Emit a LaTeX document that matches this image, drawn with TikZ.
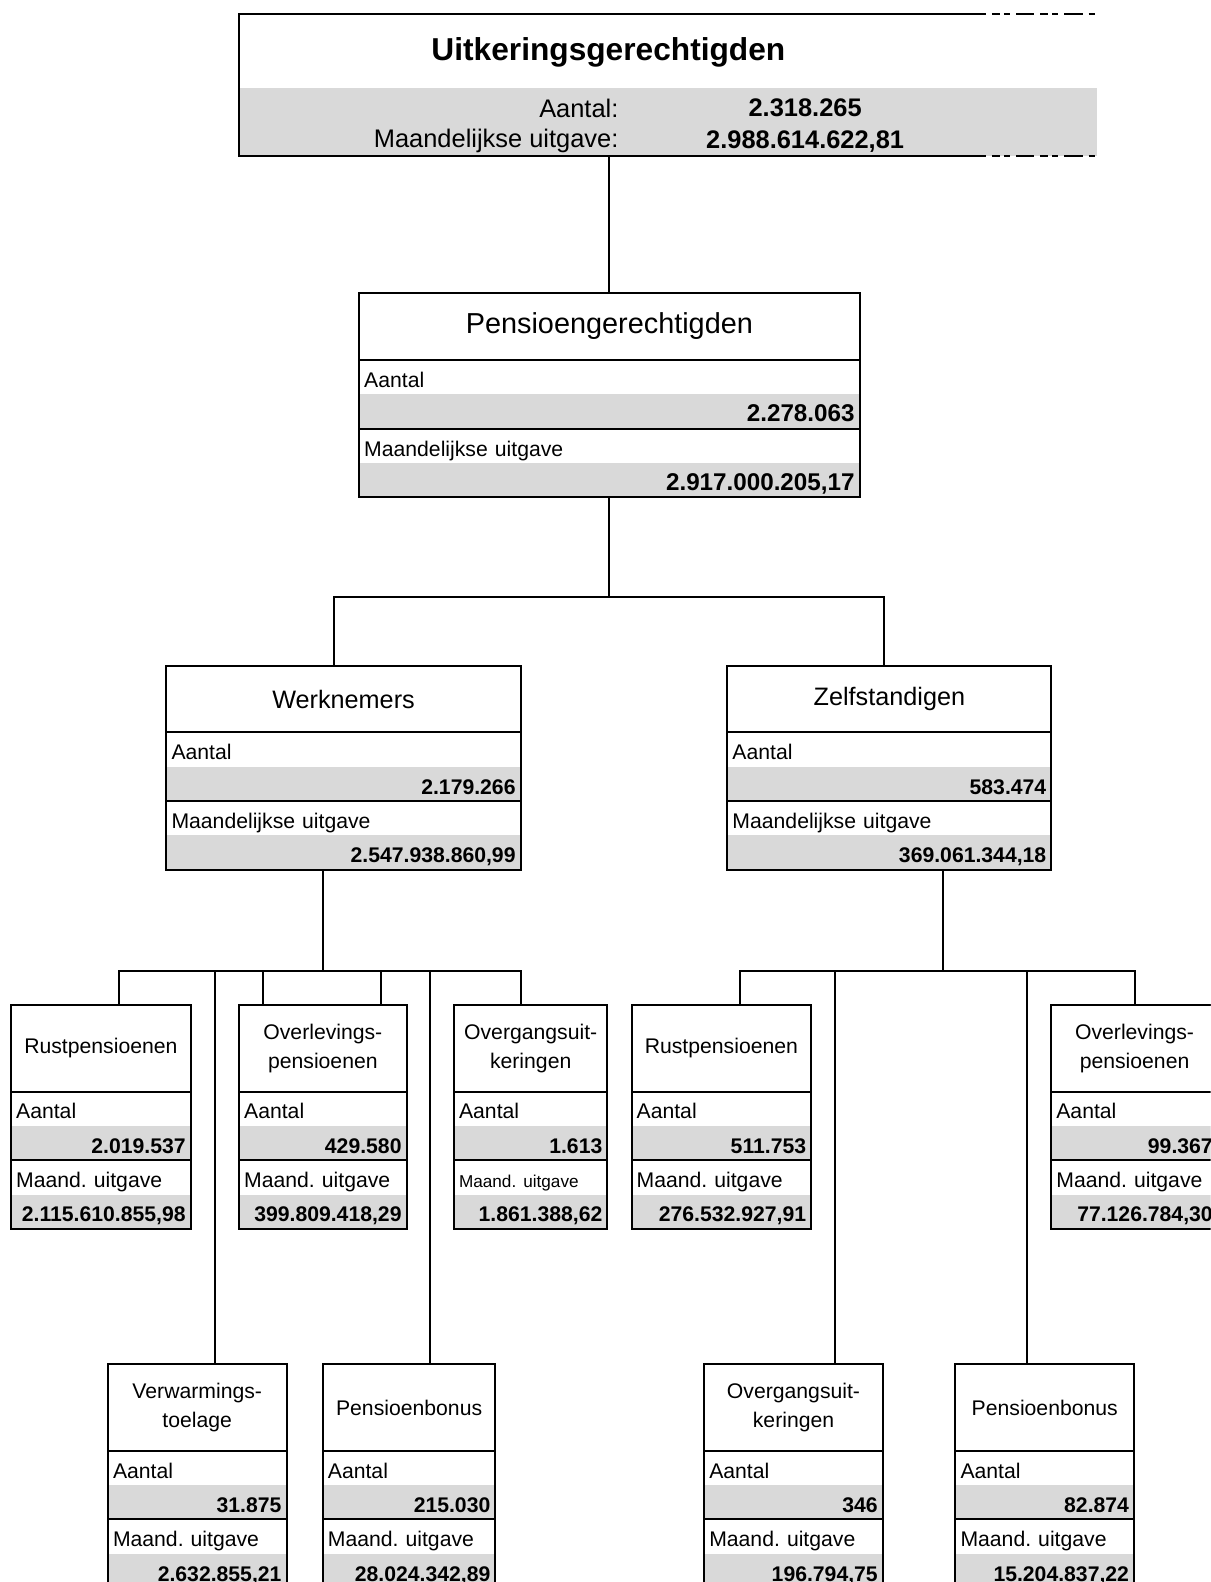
\documentclass[tikz,border=0pt]{standalone}
\usepackage{fontspec}
\setmainfont{Liberation Sans}
\frenchspacing
\definecolor{cellgray}{RGB}{217,217,217}

\tikzset{
  cell/.style={anchor=north west, inner xsep=2.5pt, inner ysep=0pt, outer sep=0pt},
  title row/.style={minimum height=43pt, font=\fontsize{10.5}{14.5}\selectfont},
  value row/.style={font=\fontsize{10.5}{12.6}\selectfont\bfseries},
  titlecell/.style={cell, draw, line width=1pt, align=center, title row},
  labelcell/.style={cell, align=left, minimum height=17pt, text height=10.5pt, text depth=0.5pt, font=\fontsize{10.5}{12.6}\selectfont},
  valuecell/.style={cell, align=right, minimum height=17pt, text height=10.5pt, text depth=0.5pt, fill=cellgray, value row},
  boxline/.style={line width=1pt},
  link/.style={line width=1pt},
}

% [style] name, x, y, width, title, aantal, label, uitgave
\newcommand{\statbox}[9][]{%
  \pgfmathsetmacro{\cellw}{#5*0.5-5}
  \begin{scope}[#1]
    \node[titlecell, text width=\cellw pt] (#2) at (#3,#4) {#6};
    \node[labelcell, text width=\cellw pt] (#2-al) at (#2.south west) {Aantal};
    \node[valuecell, text width=\cellw pt] (#2-av) at (#2-al.south west) {#7};
    \node[labelcell, text width=\cellw pt] (#2-ml) at (#2-av.south west) {#8};
    \node[valuecell, text width=\cellw pt] (#2-mv) at (#2-ml.south west) {#9};
    \draw[boxline] (#2.north west) rectangle (#2-mv.south east)
      (#2-ml.north west) -- (#2-ml.north east);
  \end{scope}
}

\begin{document}
\begin{tikzpicture}[x=0.5pt, y=-0.5pt]
  \path[use as bounding box] (0,0) rectangle (1200,1568);
  \clip (0,0) rectangle (1200,1568);

  % top box
  \node[cell, inner sep=0pt, minimum width=425pt, minimum height=70.5pt] (uitk) at (237,14) {};
  \fill[cellgray] (237,87) rectangle (1087,155);
  \node[font=\fontsize{15.7}{18}\selectfont\bfseries] (uitk-title) at (603,52) {Uitkeringsgerechtigden};
  \node[anchor=east, font=\fontsize{12.6}{15}\selectfont] (uitk-al) at (620,107) {Aantal:};
  \node[font=\fontsize{12.6}{15}\selectfont\bfseries] (uitk-av) at (798,107) {2.318.265};
  \node[anchor=east, font=\fontsize{12.6}{15}\selectfont] (uitk-ml) at (620,140) {Maandelijkse uitgave:};
  \node[font=\fontsize{12.6}{15}\selectfont\bfseries] (uitk-mv) at (798,140) {2.988.614.622,81};
  \draw[boxline] (977,14) -- (237,14) -- (237,155) -- (977,155);
  \draw[boxline, dash pattern=on 9pt off 3pt on 4pt off 2pt on 3pt off 3pt, dash phase=9pt]
    (977,14) -- (1085,14) (977,155) -- (1085,155);

  \statbox[title row/.style={minimum height=33.5pt, font=\fontsize{14.3}{17}\selectfont},
           value row/.style={font=\fontsize{12}{14}\selectfont\bfseries}]
    {pens}{356}{290}{496}{Pensioengerechtigden}{2.278.063}{Maandelijkse uitgave}{2.917.000.205,17}

  \statbox[title row/.style={minimum height=33pt, font=\fontsize{12.5}{15}\selectfont}]
    {werk}{165}{660}{351}{Werknemers}{2.179.266}{Maandelijkse uitgave}{2.547.938.860,99}
  \statbox[title row/.style={minimum height=33pt, font=\fontsize{12.5}{15}\selectfont}]
    {zelf}{721}{660}{321}{Zelfstandigen}{583.474}{Maandelijkse uitgave}{369.061.344,18}

  \statbox{rustW}{11}{996}{178}{Rustpensioenen}{2.019.537}{Maand. uitgave}{2.115.610.855,98}
  \statbox{overlW}{237}{996}{166}{Overlevings-\\pensioenen}{429.580}{Maand. uitgave}{399.809.418,29}
  \statbox{overgW}{450}{996}{152}{Overgangsuit-\\keringen}{1.613}{\fontsize{8.5}{10}\selectfont Maand. uitgave}{1.861.388,62}
  \statbox{rustZ}{626}{996}{178}{Rustpensioenen}{511.753}{Maand. uitgave}{276.532.927,91}
  \statbox{overlZ}{1042}{996}{165}{Overlevings-\\pensioenen}{99.367}{Maand. uitgave}{77.126.784,30}

  \statbox{verw}{107}{1352}{177}{Verwarmings-\\toelage}{31.875}{Maand. uitgave}{2.632.855,21}
  \statbox{bonusW}{320}{1352}{171}{Pensioenbonus}{215.030}{Maand. uitgave}{28.024.342,89}
  \statbox{overgZ}{698}{1352}{177}{Overgangsuit-\\keringen}{346}{Maand. uitgave}{196.794,75}
  \statbox{bonusZ}{947}{1352}{177}{Pensioenbonus}{82.874}{Maand. uitgave}{15.204.837,22}

  % connectors
  \draw[link] (pens.north |- uitk.south) -- (pens.north);

  \coordinate (pw) at (331,592);
  \coordinate (pz) at (876,592);
  \draw[link] (pens-mv.south) -- (pens-mv.south |- pw);
  \draw[link] (pw |- werk.north) -- (pw) -- (pz) -- (pz |- zelf.north);

  \coordinate (wj) at (320,962);
  \coordinate (wl) at (118,962);
  \coordinate (wr) at (516,962);
  \draw[link] (wj |- werk-mv.south) -- (wj);
  \draw[link] (wl |- rustW.north) -- (wl) -- (wr) -- (wr |- overgW.north);
  \foreach \x/\t in {213/verw, 261/overlW, 378/overlW, 426/bonusW}
    {\coordinate (drop) at (\x,962);
     \draw[link] (drop) -- (drop |- \t.north);}

  \coordinate (zj) at (935,962);
  \coordinate (zl) at (733,962);
  \coordinate (zr) at (1125,962);
  \draw[link] (zj |- zelf-mv.south) -- (zj);
  \draw[link] (zl |- rustZ.north) -- (zl) -- (zr) -- (zr |- overlZ.north);
  \foreach \x/\t in {828/overgZ, 1018/bonusZ}
    {\coordinate (drop) at (\x,962);
     \draw[link] (drop) -- (drop |- \t.north);}
\end{tikzpicture}
\end{document}
